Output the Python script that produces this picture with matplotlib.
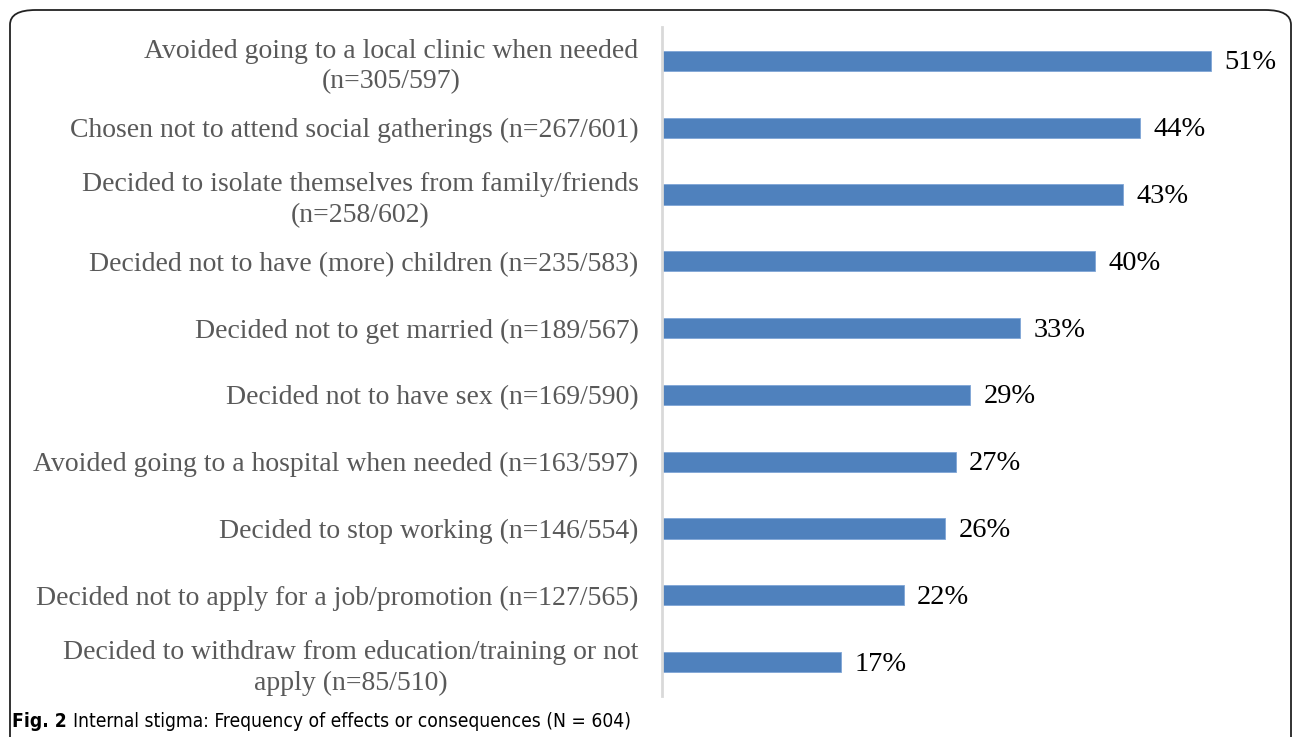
import matplotlib.pyplot as plt
from matplotlib.patches import FancyBboxPatch
import numpy as np

labels = [
    "Avoided going to a local clinic when needed\n(n=305/597)",
    "Chosen not to attend social gatherings (n=267/601)",
    "Decided to isolate themselves from family/friends\n(n=258/602)",
    "Decided not to have (more) children (n=235/583)",
    "Decided not to get married (n=189/567)",
    "Decided not to have sex (n=169/590)",
    "Avoided going to a hospital when needed (n=163/597)",
    "Decided to stop working (n=146/554)",
    "Decided not to apply for a job/promotion (n=127/565)",
    "Decided to withdraw from education/training or not\napply (n=85/510)",
]
counts = [305, 267, 258, 235, 189, 169, 163, 146, 127, 85]
totals = [597, 601, 602, 583, 567, 590, 597, 554, 565, 510]

W, H = 1292, 737
fig = plt.figure(figsize=(W / 100, H / 100), dpi=100)

# rounded frame, open at the bottom of the picture
frame = FancyBboxPatch((10 / W, -40 / H), 1281 / W, (H - 10 + 40) / H,
                       boxstyle="round,pad=0,rounding_size=0.02",
                       transform=fig.transFigure, fill=False,
                       edgecolor="#222222", linewidth=1.3, clip_on=False)
fig.patches.append(frame)

pct = np.array(counts) / np.array(totals) * 100
y = np.arange(len(labels))

ax = fig.add_axes([662 / W, 1 - 695.5 / H, (W - 662) / W, (695.5 - 27.5) / H])
ax.barh(y, pct, height=0.3, color="#4F81BD", edgecolor="#7FA5D6", linewidth=0.6)
ax.set_ylim(len(labels) - 0.5, -0.5)
ax.set_xlim(0, (W - 662) / 10.75)

for yi, p in zip(y, pct):
    ax.text(p + 1.25, yi + 0.03, f"{p:.0f}%", va="center", ha="left",
            family="Liberation Serif", fontsize=20.5, color="black")

ax.set_yticks(y)
ax.set_yticklabels(labels, family="Liberation Serif", fontsize=20, color="#595959")
for t in ax.get_yticklabels():
    t.set_multialignment("center")
    t.set_linespacing(1.3)
ax.tick_params(axis="y", length=0, pad=17)
ax.set_xticks([])
for s in ["top", "right", "bottom"]:
    ax.spines[s].set_visible(False)
ax.spines["left"].set_color("#D9D9D9")
ax.spines["left"].set_linewidth(2)
ax.patch.set_alpha(0)

cap_font = dict(fontsize=13.8, family="DejaVu Sans", fontstretch="condensed",
                va="baseline", ha="left")
fig_lbl = fig.text(12 / W, 1 - 727 / H, "Fig. 2", fontweight="bold", **cap_font)
fig.canvas.draw()
bb = fig_lbl.get_window_extent()
fig.text((bb.x1 + 6) / W, 1 - 727 / H,
         "Internal stigma: Frequency of effects or consequences (N = 604)", **cap_font)

fig.savefig("out.png", dpi=100)
